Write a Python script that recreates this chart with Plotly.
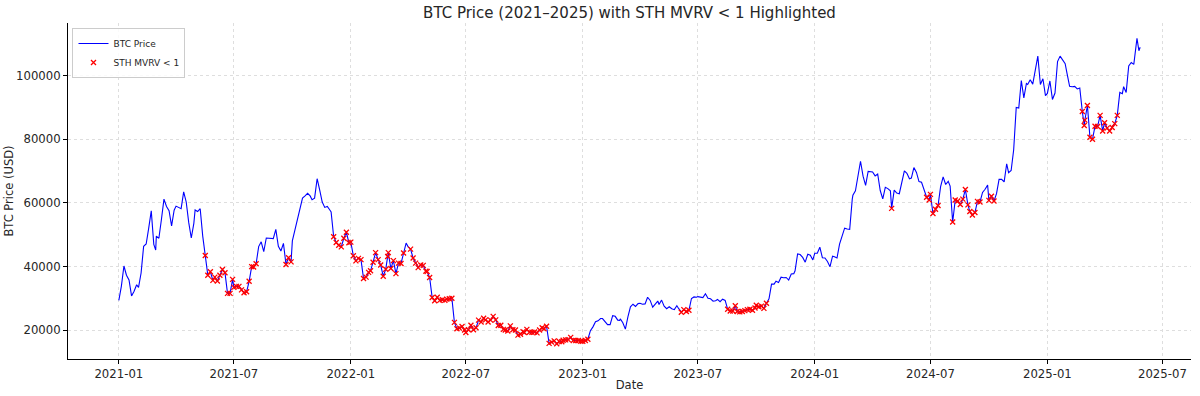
import calendar
import datetime as dt
import plotly.graph_objects as go

# ---------------- data ----------------
# Prices sampled on days 1,5,9,13,17,21,25,29 of each month (29 -> last day in Feb)
SAMPLE_DAYS = [1, 5, 9, 13, 17, 21, 25, 29]
SAMPLE_DAYS_LAST_MONTH = [1, 5, 9, 13, 17, 22, 25, 27]  # May 2025

price_2021 = [
    29400, 33900, 40200, 37300, 35800, 30800, 32300, 34300,
    33500, 38000, 46400, 47100, 52100, 57500, 47000, 45200,
    49600, 48900, 54800, 61200, 58900, 57600, 52800, 57700,
    59000, 58700, 58200, 63500, 60300, 53800, 49000, 53600,
    57800, 57300, 58200, 49600, 43500, 37300, 38400, 35700,
    36700, 35500, 37300, 39100, 38100, 31600, 31600, 36000,
    33500, 33800, 33800, 32700, 31800, 32100, 35400, 40000,
    39900, 40900, 46300, 47800, 44700, 49000, 48900, 48800,
    48800, 51700, 46400, 44900, 47300, 40700, 42800, 41500,
    48100, 51500, 54900, 57300, 61500, 62200, 63000, 62200,
    61000, 61500, 67600, 64100, 60300, 58600, 58900, 57800,
    57200, 49400, 47600, 46700, 46200, 48900, 50800, 47500,
]
price_2022 = [
    47700, 43400, 41800, 42600, 42200, 36300, 36700, 38200,
    38700, 41400, 44400, 42200, 40500, 37000, 39200, 43200,
    44400, 39400, 41900, 37800, 41100, 41000, 44300, 47400,
    46300, 45500, 42700, 41100, 39700, 40500, 40400, 38600,
    38500, 36600, 30300, 29300, 30400, 29400, 29600, 29400,
    29800, 29900, 30100, 22500, 20500, 20700, 21200, 20100,
    19300, 20200, 21600, 20200, 20800, 23200, 22600, 23800,
    23300, 22600, 23200, 24400, 23300, 21500, 21600, 20300,
    20100, 19800, 21400, 20200, 20100, 18500, 18800, 19600,
    19300, 20300, 19400, 19400, 19500, 19200, 20100, 20800,
    20500, 21300, 15900, 16300, 16700, 15800, 16500, 16400,
    16900, 17000, 17100, 17800, 16800, 16800, 16800, 16600,
]
price_2023 = [
    16600, 16800, 17200, 19900, 21100, 22700, 23000, 23700,
    23700, 22900, 21800, 21800, 24600, 24400, 23200, 23100,
    23600, 22400, 20400, 24200, 27400, 28200, 27500, 28400,
    28500, 28200, 28300, 30400, 29400, 27300, 28300, 29200,
    28100, 29500, 27600, 26800, 27400, 26800, 26500, 27700,
    26800, 25700, 26500, 25900, 26300, 30000, 30500, 30400,
    30600, 30500, 30300, 31500, 30100, 29900, 29200, 29300,
    29700, 29000, 29800, 29400, 26600, 26100, 26100, 27700,
    25900, 25800, 25900, 26200, 26500, 26600, 26300, 27000,
    27900, 27400, 27600, 26900, 28500, 29900, 34500, 34500,
    35400, 35000, 36700, 36500, 36600, 35800, 37700, 37800,
    38700, 44000, 43800, 42900, 41400, 43900, 43600, 42100,
]
price_2024 = [
    44200, 44200, 46100, 42800, 42700, 41600, 40000, 43300,
    43100, 42700, 47100, 49700, 52100, 51800, 51700, 61200,
    62400, 63800, 68300, 73100, 68400, 65500, 69900, 69900,
    69700, 68500, 69100, 63900, 61300, 64900, 64500, 63800,
    58300, 64000, 63100, 62900, 67000, 70100, 69300, 67600,
    67800, 71100, 69600, 66700, 66500, 64100, 61800, 60900,
    62700, 56700, 58000, 59200, 65100, 68200, 65800, 66800,
    65300, 54000, 60900, 60600, 59500, 61200, 64200, 59400,
    57300, 56200, 57000, 60500, 60300, 63300, 64300, 65600,
    60800, 62100, 60600, 62900, 67400, 67400, 66600, 72300,
    69500, 70200, 76700, 90000, 89800, 98400, 93000, 97500,
    97200, 98700, 97300, 101400, 106100, 97200, 99000, 93700,
]
price_2025 = [
    94400, 98300, 92500, 94500, 104400, 106100, 104700, 103700,
    100600, 96600, 96500, 96600, 95800, 96100, 88700, 84300,
    86000, 90600, 80600, 80000, 84100, 84000, 87500, 82600,
    85200, 83500, 82600, 83700, 84900, 87500, 94700, 94300,
    96500, 94700, 103000, 104100, 103500, 111700, 107800, 108900,
]

# Periods where STH MVRV < 1
sth_below_one_periods = [
    ("2021-05-16", "2021-08-07"),
    ("2021-09-20", "2021-09-29"),
    ("2021-12-04", "2022-03-26"),
    ("2022-04-02", "2023-01-12"),
    ("2023-06-04", "2023-06-19"),
    ("2023-08-17", "2023-10-20"),
    ("2024-05-01", "2024-05-01"),
    ("2024-06-24", "2024-07-14"),
    ("2024-08-02", "2024-09-19"),
    ("2024-09-30", "2024-10-12"),
    ("2025-02-24", "2025-04-21"),
]

x_tick_labels = ["2021-01", "2021-07", "2022-01", "2022-07", "2023-01",
                 "2023-07", "2024-01", "2024-07", "2025-01", "2025-07"]
y_tick_values = [20000, 40000, 60000, 80000, 100000]

# ---------------- build series ----------------
yearly = [(2021, price_2021), (2022, price_2022), (2023, price_2023),
          (2024, price_2024), (2025, price_2025)]
dates, prices = [], []
for year, vals in yearly:
    n_months = len(vals) // 8
    for m in range(1, n_months + 1):
        last = calendar.monthrange(year, m)[1]
        days = SAMPLE_DAYS_LAST_MONTH if (year == 2025 and m == n_months) else SAMPLE_DAYS
        for k, d in enumerate(days):
            dates.append(dt.date(year, m, min(d, last)))
            prices.append(vals[(m - 1) * 8 + k])

periods = [(dt.date.fromisoformat(a), dt.date.fromisoformat(b)) for a, b in sth_below_one_periods]
m_dates, m_prices = [], []
for d, p in zip(dates, prices):
    if any(a <= d <= b for a, b in periods):
        m_dates.append(d)
        m_prices.append(p)

span = (dates[-1] - dates[0]).days
pad = dt.timedelta(days=span * 0.05)
x_range = [dates[0] - pad, dates[-1] + pad]
ymin, ymax = min(prices), max(prices)
ypad = (ymax - ymin) * 0.05
y_range = [ymin - ypad, ymax + ypad]

# ---------------- figure ----------------
FONT = "DejaVu Sans"
TXT = "#262626"

fig = go.Figure()
fig.add_trace(go.Scatter(
    x=dates, y=prices, mode="lines", name="BTC Price",
    line=dict(color="#0000ff", width=1.1),
))
fig.add_trace(go.Scatter(
    x=m_dates, y=m_prices, mode="markers", name="STH MVRV < 1",
    marker=dict(symbol="x-thin", size=5, color="red",
                line=dict(color="red", width=1.3)),
))

axis_common = dict(
    showgrid=True, gridcolor="#dedede", griddash="dot", gridwidth=0.8,
    showline=True, linecolor="#000000", linewidth=1,
    ticks="outside", ticklen=4, tickcolor="#000000", tickwidth=1,
    zeroline=False, mirror=False, automargin=False,
    tickfont=dict(family=FONT, size=11.7, color=TXT),
)

fig.update_layout(
    width=1200, height=396,
    margin=dict(l=68, r=9, t=23, b=37),
    paper_bgcolor="white", plot_bgcolor="white",
    font=dict(family=FONT, color=TXT),
    title=dict(text="BTC Price (2021–2025) with STH MVRV < 1 Highlighted",
               x=0.5, xref="paper", xanchor="center",
               y=1 - 13 / 396, yref="container", yanchor="middle",
               font=dict(family=FONT, size=15, color=TXT)),
    xaxis=dict(
        type="date", range=x_range,
        tickvals=[dt.date(int(s[:4]), int(s[5:]), 1) for s in x_tick_labels],
        ticktext=x_tick_labels,
        title=dict(text="Date", font=dict(family=FONT, size=11.5, color=TXT), standoff=0),
        **axis_common,
    ),
    yaxis=dict(
        range=y_range,
        tickvals=y_tick_values,
        ticktext=[str(v) for v in y_tick_values],
        title=dict(text="BTC Price (USD)", font=dict(family=FONT, size=11.5, color=TXT), standoff=0),
        **axis_common,
    ),
    legend=dict(
        x=0.004, y=0.985, xanchor="left", yanchor="top",
        bordercolor="#cccccc", borderwidth=1, bgcolor="rgba(255,255,255,0.85)",
        font=dict(family=FONT, size=9, color=TXT),
        tracegroupgap=0,
    ),
    showlegend=True,
)

fig.write_html(
    "out.html",
    config={"displayModeBar": False},
    post_script="document.body.style.margin='0';document.body.style.overflow='hidden';",
)
